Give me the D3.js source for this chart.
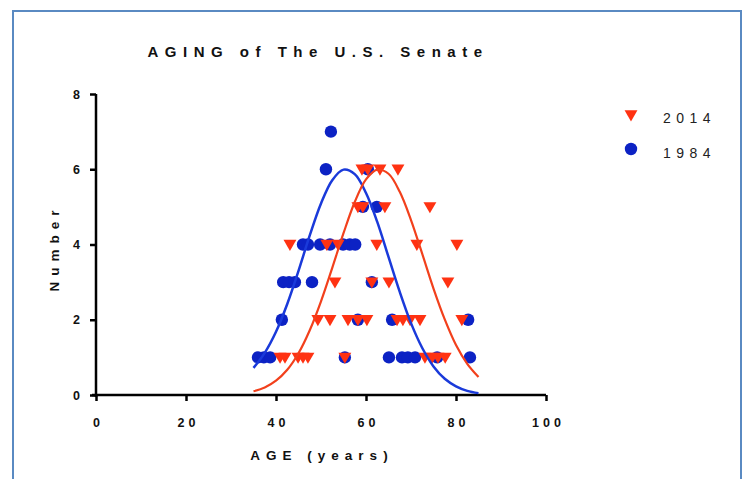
<!DOCTYPE html>
<html>
<head>
<meta charset="utf-8">
<script src="https://cdn.jsdelivr.net/npm/d3@7"></script>
<style>
    body { margin: 0; background: #fff; }
    text { font-family: "Liberation Sans", Arial, sans-serif; }
</style>
</head>
<body>
<svg id="chart" width="748" height="479"></svg>
<script>
// 1984 senators (blue circles): age, number
const ages1984 = [52.2, 51.1, 60.4, 59.3, 62.4,
    46.0, 47.1, 49.8, 52.0, 54.9, 56.4, 57.6,
    41.6, 42.9, 44.2, 48.0, 61.3,
    41.3, 58.2, 65.8, 82.7,
    36.0, 37.3, 38.7, 55.3, 65.1, 68.0, 69.3, 70.9, 75.8, 83.1];
const counts1984 = [7, 6, 6, 5, 5,
    4, 4, 4, 4, 4, 4, 4,
    3, 3, 3, 3, 3,
    2, 2, 2, 2,
    1, 1, 1, 1, 1, 1, 1, 1, 1, 1];

// 2014 senators (red triangles)
const ages2014 = [59.1, 60.4, 63.1, 67.1,
    58.2, 59.3, 64.2, 74.2,
    43.1, 51.3, 53.8, 62.4, 71.3, 80.2,
    53.1, 61.3, 65.1, 78.2,
    49.3, 52.0, 56.0, 58.2, 60.2, 66.9, 68.2, 69.8, 72.0, 81.3,
    40.9, 42.0, 44.9, 46.0, 47.1, 55.3, 73.1, 74.7, 76.0, 77.6];
const counts2014 = [6, 6, 6, 6,
    5, 5, 5, 5,
    4, 4, 4, 4, 4, 4,
    3, 3, 3, 3,
    2, 2, 2, 2, 2, 2, 2, 2, 2, 2,
    1, 1, 1, 1, 1, 1, 1, 1, 1, 1];

// fitted curves, every 2.5 years
const curveAges = [35, 37.5, 40, 42.5, 45, 47.5, 50, 52.5, 55, 57.5, 60,
    62.5, 65, 67.5, 70, 72.5, 75, 77.5, 80, 82.5, 85];
const curve1984 = [0.72, 1.12, 1.68, 2.42, 3.30, 4.24, 5.09, 5.71, 5.99, 5.87, 5.37,
    4.60, 3.67, 2.74, 1.91, 1.25, 0.76, 0.43, 0.23, 0.11, 0.05];
const curve2014 = [0.10, 0.20, 0.38, 0.67, 1.11, 1.72, 2.49, 3.38, 4.30, 5.13, 5.73,
    5.99, 5.88, 5.40, 4.65, 3.75, 2.83, 2.01, 1.33, 0.83, 0.48];

const xTicks = [0, 20, 40, 60, 80, 100];
const yTicks = [0, 2, 4, 6, 8];

const title = 'AGING of The U.S. Senate';
const xLabel = 'AGE (years)';
const yLabel = 'Number';
const legendItems = ['2014', '1984'];

const red = '#ff3212';
const blue = '#0c22c4';

const svg = d3.select('#chart');

// outer frame
svg.append('rect')
    .attr('x', 13)
    .attr('y', 11)
    .attr('width', 728)
    .attr('height', 490)
    .attr('fill', 'none')
    .attr('stroke', '#5a8ac2')
    .attr('stroke-width', 2);

const x = d3.scaleLinear().domain([0, 100]).range([96, 546]);
const y = d3.scaleLinear().domain([0, 8]).range([395, 94]);

// axes
const xAxis = svg.append('g')
    .attr('transform', `translate(0,${y(0)})`)
    .call(d3.axisBottom(x).tickValues(xTicks).tickSize(6).tickSizeOuter(0).tickPadding(17));
const yAxis = svg.append('g')
    .attr('transform', `translate(${x(0)},0)`)
    .call(d3.axisLeft(y).tickValues(yTicks).tickSize(6).tickSizeOuter(0).tickPadding(10));

[xAxis, yAxis].forEach(g => {
    g.select('.domain').attr('stroke', '#000').attr('stroke-width', 2.5);
    g.selectAll('.tick line').attr('stroke', '#000').attr('stroke-width', 2.5);
    g.selectAll('.tick text')
        .attr('fill', '#111')
        .style('font-weight', 'bold')
        .style('font-size', '12.5px');
});
xAxis.select('.domain').attr('d', `M${x(0) - 4},0H${x(100)}`);
yAxis.select('.domain').attr('d', `M0,${y(8)}V${y(0) + 2}`);
xAxis.selectAll('.tick text').style('letter-spacing', '4px').attr('dx', '2px');

// titles
svg.append('text')
    .attr('x', 318)
    .attr('y', 57)
    .attr('text-anchor', 'middle')
    .style('font-size', '15px')
    .style('font-weight', 'bold')
    .style('letter-spacing', '6.5px')
    .attr('fill', '#111')
    .text(title);

svg.append('text')
    .attr('x', 322)
    .attr('y', 460)
    .attr('text-anchor', 'middle')
    .style('font-size', '13.5px')
    .style('font-weight', 'bold')
    .style('letter-spacing', '6px')
    .attr('fill', '#111')
    .text(xLabel);

svg.append('text')
    .attr('transform', 'translate(59,248) rotate(-90)')
    .attr('text-anchor', 'middle')
    .style('font-size', '13.5px')
    .style('font-weight', 'bold')
    .style('letter-spacing', '6px')
    .attr('fill', '#111')
    .text(yLabel);

// points
const triangle = d3.symbol().type(d3.symbolTriangle).size(72);

svg.selectAll('circle.p1984')
    .data(ages1984.map((a, i) => [a, counts1984[i]]))
    .join('circle')
    .attr('class', 'p1984')
    .attr('cx', d => x(d[0]))
    .attr('cy', d => y(d[1]))
    .attr('r', 6.2)
    .attr('fill', blue);

svg.selectAll('path.p2014')
    .data(ages2014.map((a, i) => [a, counts2014[i]]))
    .join('path')
    .attr('class', 'p2014')
    .attr('d', triangle)
    .attr('fill', red)
    .attr('transform', d => `translate(${x(d[0])},${y(d[1]) - 1}) rotate(180)`);

// fitted curves
const line = d3.line()
    .x(d => x(d[0]))
    .y(d => y(d[1]))
    .curve(d3.curveCatmullRom);

svg.append('path')
    .datum(curveAges.map((a, i) => [a, curve1984[i]]))
    .attr('d', line)
    .attr('fill', 'none')
    .attr('stroke', '#1a3ada')
    .attr('stroke-width', 2.5);

svg.append('path')
    .datum(curveAges.map((a, i) => [a, curve2014[i]]))
    .attr('d', line)
    .attr('fill', 'none')
    .attr('stroke', '#f2401c')
    .attr('stroke-width', 2.2);

// legend
const legend = svg.selectAll('g.legend')
    .data(legendItems)
    .join('g')
    .attr('class', 'legend')
    .attr('transform', (d, i) => `translate(631,${114 + i * 35})`);

legend.filter((d, i) => i === 0)
    .append('path')
    .attr('d', triangle)
    .attr('fill', red)
    .attr('transform', 'rotate(180)');

legend.filter((d, i) => i === 1)
    .append('circle')
    .attr('r', 6.2)
    .attr('fill', blue);

legend.append('text')
    .attr('x', 32)
    .attr('y', 9)
    .style('font-size', '14px')
    .style('letter-spacing', '5.5px')
    .attr('fill', '#222')
    .text(d => d);
</script>
</body>
</html>
